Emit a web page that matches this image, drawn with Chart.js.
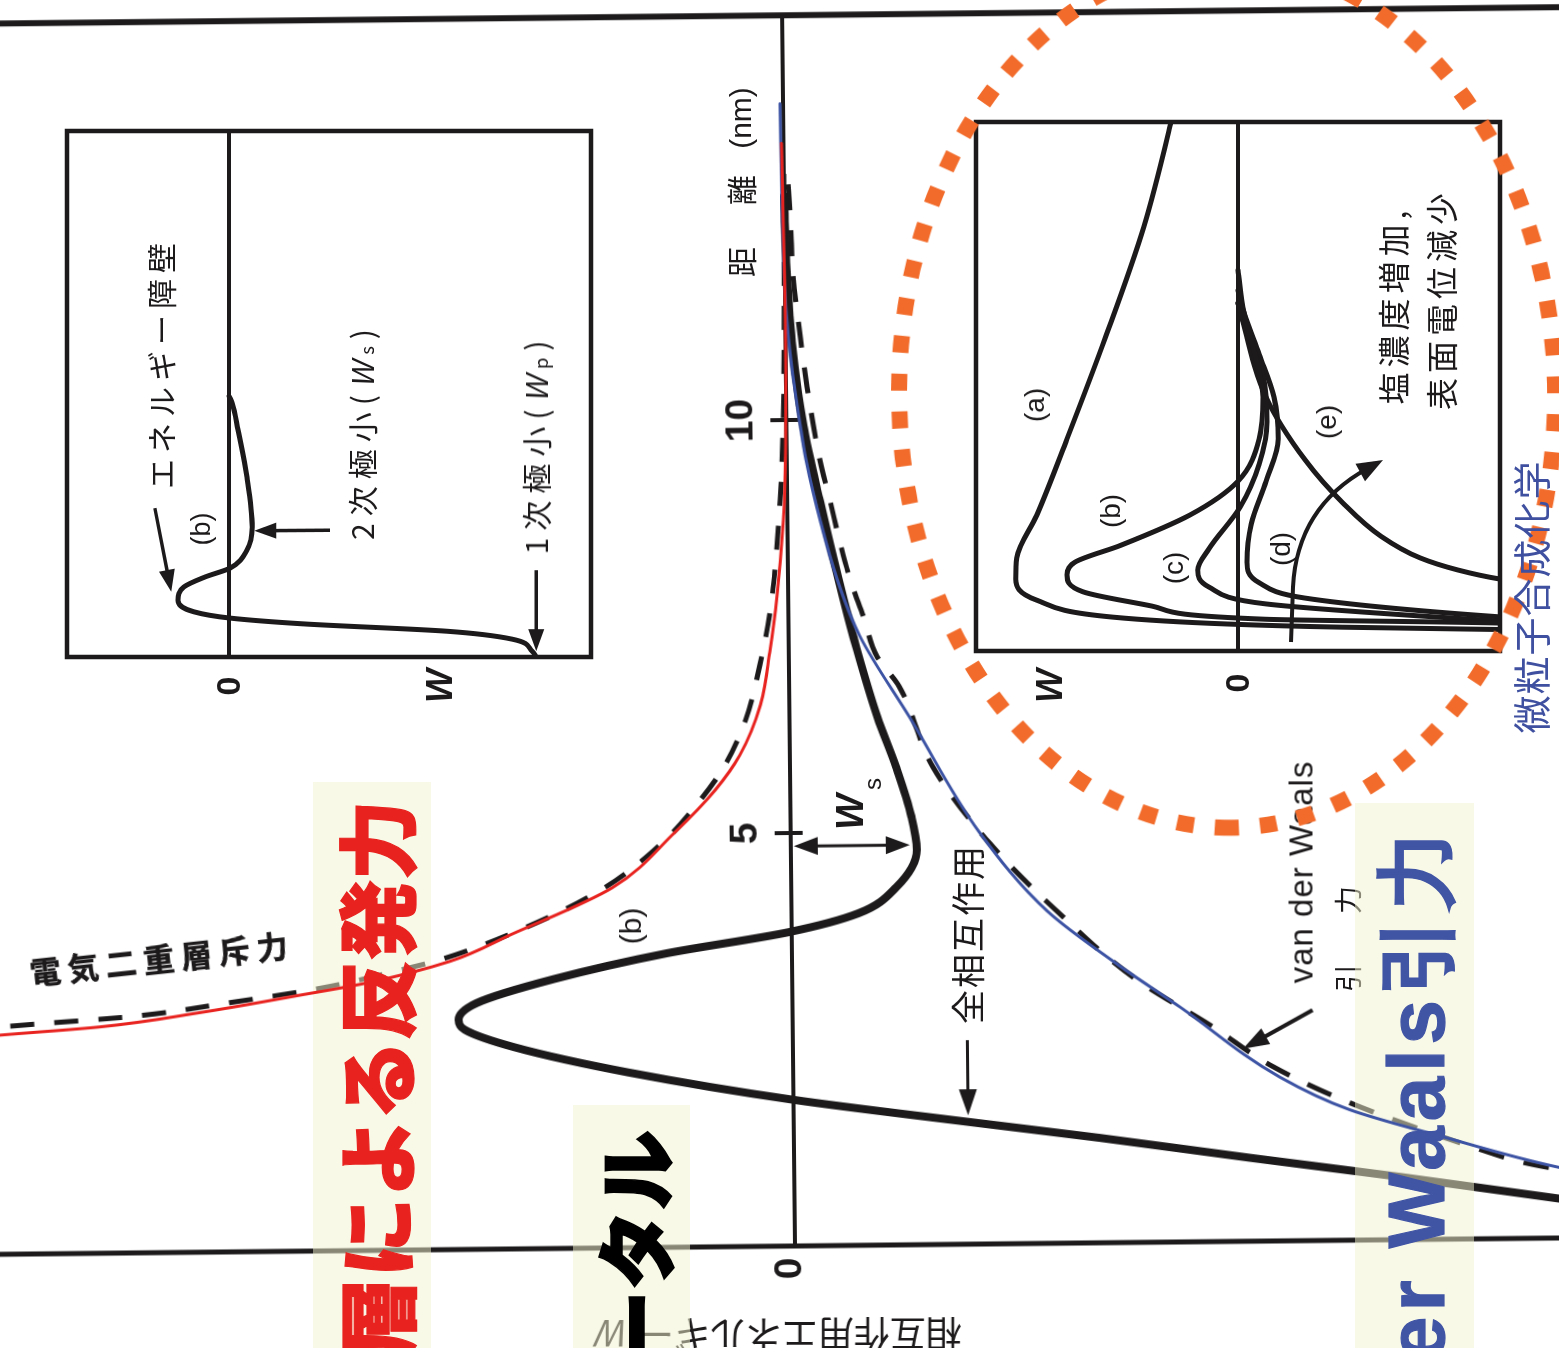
<!DOCTYPE html>
<html lang="ja">
<head>
<meta charset="utf-8">
<title>粒子間ポテンシャル</title>
<script src="https://cdn.jsdelivr.net/npm/chart.js@4.4.1/dist/chart.umd.min.js"></script>
<style>
  html, body { margin: 0; padding: 0; background: #fff; }
  #page { position: relative; width: 1559px; height: 1348px; overflow: hidden; background: #fff; }
  .layer { position: absolute; left: 0; top: 0; width: 1559px; height: 1348px; }
  .tilt { transform-origin: 795px 1246px; transform: rotate(-0.6deg); }
  .rot { position: absolute; transform-origin: 0 0; transform: rotate(-90deg); }
  .rot canvas { display: block; }
  .lbl { position: absolute; left: 0; top: 0; white-space: nowrap; line-height: 1; transform-origin: 0 0;
         font-family: "Noto Sans CJK JP", "Liberation Sans", sans-serif; color: #1d1a1b; }
  .box { position: absolute; background: rgba(244, 244, 210, 0.5); }
</style>
</head>
<body>
<div id="page">
  <div id="scan" class="layer">
    <div class="layer tilt">
      <div class="rot" style="left:-20px; top:1368px; width:1388px; height:1599px;">
        <canvas id="mainChart" width="1388" height="1599"></canvas>
      </div>
    </div>
    <div class="rot" style="left:57px; top:667px; width:546px; height:544px;">
      <canvas id="insetBarrier" width="546" height="544"></canvas>
    </div>
    <div class="rot" style="left:966px; top:661px; width:549px; height:544px;">
      <canvas id="insetSalt" width="549" height="544"></canvas>
    </div>
  </div>
  <div id="boxes" class="layer">
    <div class="box" style="left:313px; top:782px; width:118px; height:566px;"></div>
    <div class="box" style="left:573px; top:1105px; width:117px; height:243px;"></div>
    <div class="box" style="left:1355px; top:803px; width:119px; height:545px;"></div>
  </div>
  <div class="layer tilt">
    <div class="rot" style="left:-20px; top:1368px; width:1388px; height:1599px;">
      <canvas id="overlayChart" width="1388" height="1599"></canvas>
    </div>
  </div>
  <div id="captions" class="layer"></div>
</div>

<script>
// ---- main diagram: separation distance (nm) vs. interaction energy W (arbitrary units) ----
const distTicks = [0, 5, 10];
const distTickLabels = ['0', '5', '10'];

// total interaction, curve (b)
const totalDist   = [0.25, 0.48, 0.76, 1.01, 1.27, 1.48, 1.77, 2.12, 2.44, 2.66, 2.78, 2.98, 3.26, 3.56, 3.80, 4.02, 4.33, 4.78, 5.18, 5.79, 6.39, 7.22, 7.84, 9.00, 9.93, 10.86, 11.79, 12.71];
const totalEnergy = [-9.00, -7.63, -6.06, -4.56, -3.06, -1.75, 0.00, 1.64, 2.78, 3.28, 3.34, 3.16, 2.39, 1.25, 0.03, -0.67, -1.05, -1.26, -1.21, -1.06, -0.88, -0.68, -0.55, -0.33, -0.17, -0.07, -0.02, 0.00];

// electric double layer repulsion (dashed)
const edlDist   = [2.68, 2.78, 2.86, 3.01, 3.18, 3.39, 3.51, 3.86, 4.33, 4.87, 5.41, 5.83, 6.37, 7.04, 7.70, 8.31, 9.03, 10.00, 11.45, 13.00];
const edlEnergy = [8.70, 7.60, 6.63, 5.67, 4.72, 3.92, 3.52, 2.72, 1.91, 1.31, 0.90, 0.65, 0.44, 0.29, 0.18, 0.12, 0.07, 0.03, 0.01, 0.00];

// van der Waals attraction (dashed)
const vdwDist   = [0.75, 0.92, 1.07, 1.66, 2.11, 2.60, 3.21, 3.91, 4.85, 5.78, 6.76, 7.13, 7.61, 8.07, 8.53, 9.01, 9.52, 9.93, 10.40, 10.99, 11.79, 12.48, 12.90];
const vdwEnergy = [-8.00, -7.29, -6.89, -5.57, -4.80, -4.20, -3.41, -2.75, -1.99, -1.43, -1.10, -0.88, -0.75, -0.62, -0.52, -0.43, -0.33, -0.27, -0.21, -0.15, -0.08, -0.06, -0.04];

// highlighted repulsion (red) and attraction (blue) traces
const repulsionDist   = [2.52, 2.655, 2.74, 2.90, 3.10, 3.24, 3.49, 3.81, 4.36, 5.02, 5.53, 5.95, 6.55, 7.19, 7.89, 8.79, 9.27, 11.09, 13.35];
const repulsionEnergy = [9.30, 7.91, 6.93, 5.93, 4.92, 4.25, 3.42, 2.80, 1.79, 1.16, 0.75, 0.50, 0.29, 0.19, 0.11, 0.04, 0.02, 0.00, 0.02];
const attractionDist   = [0.70, 0.86, 1.24, 1.58, 1.98, 2.84, 3.39, 4.02, 4.98, 6.39, 7.38, 8.07, 8.77, 9.47, 10.17, 10.86, 11.55, 12.48, 13.83];
const attractionEnergy = [-8.30, -7.63, -6.49, -5.56, -4.87, -3.88, -3.23, -2.56, -1.89, -1.20, -0.71, -0.49, -0.33, -0.20, -0.11, -0.04, 0.00, 0.02, 0.03];

// ---- inset: energy barrier, secondary and primary minima (curve b) ----
const barrierDist   = [0.00, 0.11, 0.34, 0.49, 0.63, 0.74, 0.86, 1.08, 1.33, 1.52, 1.69, 2.03, 2.47, 3.42, 4.32, 4.83, 4.96];
const barrierEnergy = [-5.84, -5.76, -5.38, -4.14, -1.41, -0.02, 0.67, 0.97, 0.86, 0.46, -0.02, -0.34, -0.44, -0.34, -0.17, -0.06, 0.00];

// ---- inset: curves (a)-(e), increasing salt concentration ----
const curveADist   = [0.40, 0.45, 0.51, 0.64, 0.96, 1.36, 1.76, 2.57, 4.01, 5.94, 8.02, 9.98, 10.20];
const curveAEnergy = [-5.40, -1.98, 0.19, 2.36, 3.80, 4.20, 4.18, 3.80, 3.23, 2.50, 1.78, 1.27, 1.22];
const curveBDist   = [0.50, 0.53, 0.60, 0.85, 1.12, 1.44, 1.68, 2.00, 2.57, 3.21, 4.01, 4.80, 5.61, 6.41, 7.20];
const curveBEnergy = [-5.40, -4.88, -0.53, 1.63, 2.93, 3.23, 3.08, 2.21, 0.91, 0.00, -0.40, -0.47, -0.32, -0.11, 0.00];
const curveCDist   = [0.54, 0.57, 0.89, 1.21, 1.53, 1.93, 2.72, 3.53, 4.33, 5.22, 6.01, 6.58];
const curveCEnergy = [-5.40, -4.88, -0.53, 0.55, 0.76, 0.55, -0.04, -0.40, -0.55, -0.47, -0.17, 0.00];
const curveDDist   = [0.62, 0.65, 1.00, 1.29, 1.68, 2.40, 3.21, 4.01, 4.80, 5.61, 6.41, 6.82];
const curveDEnergy = [-5.40, -4.88, -1.27, -0.40, -0.17, -0.25, -0.53, -0.76, -0.68, -0.40, -0.11, 0.00];
const curveEDist   = [1.30, 1.36, 1.53, 1.76, 2.17, 2.80, 3.61, 4.80, 6.58];
const curveEEnergy = [-5.40, -4.95, -4.16, -3.44, -2.70, -1.98, -1.27, -0.53, 0.00];

// ---------------------------------------------------------------------------
const INK = '#1d1a1b';
const RED = '#e8231f';
const BLUE = '#3c53a4';
const ORANGE = '#f26b2a';

const xy = (xs, ys) => xs.map((x, i) => ({ x, y: ys[i] }));

function curve(dist, energy, style) {
  return Object.assign({
    data: xy(dist, energy), pointRadius: 0, fill: false,
    cubicInterpolationMode: 'monotone', borderJoinStyle: 'round', borderCapStyle: 'round'
  }, style);
}

function seg(ctx, x1, y1, x2, y2) {
  ctx.beginPath(); ctx.moveTo(x1, y1); ctx.lineTo(x2, y2); ctx.stroke();
}

function head(ctx, xFrom, yFrom, xTip, yTip, len, half) {
  const a = Math.atan2(yTip - yFrom, xTip - xFrom);
  const bx = xTip - len * Math.cos(a), by = yTip - len * Math.sin(a);
  ctx.beginPath();
  ctx.moveTo(xTip, yTip);
  ctx.lineTo(bx + half * Math.sin(a), by - half * Math.cos(a));
  ctx.lineTo(bx - half * Math.sin(a), by + half * Math.cos(a));
  ctx.closePath(); ctx.fill();
}

function arrow(ctx, x1, y1, x2, y2, len, half, both) {
  const a = Math.atan2(y2 - y1, x2 - x1);
  const sx = both ? x1 + len * 0.7 * Math.cos(a) : x1, sy = both ? y1 + len * 0.7 * Math.sin(a) : y1;
  seg(ctx, sx, sy, x2 - len * 0.7 * Math.cos(a), y2 - len * 0.7 * Math.sin(a));
  head(ctx, x1, y1, x2, y2, len, half);
  if (both) head(ctx, x2, y2, x1, y1, len, half);
}

function baseOptions(xmin, xmax, ymin, ymax, padding) {
  return {
    responsive: false, animation: false, devicePixelRatio: 1, events: [],
    layout: { padding },
    plugins: { legend: { display: false }, tooltip: { enabled: false } },
    scales: {
      x: { type: 'linear', min: xmin, max: xmax, display: false },
      y: { type: 'linear', min: ymin, max: ymax, display: false }
    }
  };
}

// ---- main chart (scan layer) ----
const DIST_END = 14.9;
const mainFrame = {
  id: 'mainFrame',
  beforeDatasetsDraw(chart) {
    const { ctx, chartArea: a, scales: { x, y } } = chart;
    ctx.save();
    ctx.strokeStyle = INK; ctx.lineCap = 'butt';
    const x0 = x.getPixelForValue(0), xe = x.getPixelForValue(DIST_END), y0 = y.getPixelForValue(0);
    ctx.lineWidth = 5; seg(ctx, x0, a.top, x0, a.bottom);
    ctx.lineWidth = 6; seg(ctx, xe, a.top, xe, a.bottom);
    ctx.lineWidth = 4; seg(ctx, x0, y0, xe, y0);
    distTicks.forEach(d => {
      if (d > 0) {
        const xp = x.getPixelForValue(d);
        seg(ctx, xp, y.getPixelForValue(0.16), xp, y.getPixelForValue(-0.12));
      }
    });
    ctx.restore();
  },
  afterDatasetsDraw(chart) {
    const { ctx, scales: { x, y } } = chart;
    const P = (d, w) => [x.getPixelForValue(d), y.getPixelForValue(w)];
    ctx.save();
    ctx.fillStyle = INK; ctx.strokeStyle = INK;
    ctx.font = 'bold 39px "Liberation Sans", Arial, sans-serif';
    ctx.textAlign = 'center'; ctx.textBaseline = 'middle';
    distTicks.forEach((d, i) => {
      const [px, py] = d === 0 ? P(-0.27, 0.05) : P(d, 0.45);
      ctx.fillText(distTickLabels[i], px, py);
    });
    ctx.lineCap = 'butt';
    // secondary minimum depth Ws
    ctx.lineWidth = 3;
    arrow(ctx, ...P(4.84, -0.03), ...P(4.84, -1.19), 24, 9, true);
    // pointer to the total interaction curve
    arrow(ctx, ...P(2.47, -1.745), ...P(1.56, -1.745), 26, 9, false);
    // pointer to the van der Waals curve
    ctx.lineWidth = 4;
    arrow(ctx, ...P(2.79, -5.20), ...P(2.33, -4.50), 26, 9, false);
    ctx.restore();
  }
};

new Chart(document.getElementById('mainChart'), {
  type: 'line',
  data: { datasets: [
    curve(totalDist, totalEnergy, { borderColor: INK, borderWidth: 8 }),
    curve(edlDist, edlEnergy, { borderColor: INK, borderWidth: 5, borderDash: [24, 20], borderCapStyle: 'butt' }),
    curve(vdwDist, vdwEnergy, { borderColor: INK, borderWidth: 5, borderDash: [26, 20], borderCapStyle: 'butt' })
  ] },
  options: baseOptions(0, 15, -7.84, 8.15, { left: 122, right: 27, top: 0, bottom: 0 }),
  plugins: [mainFrame]
});

// ---- overlay traces and highlight ring ----
const ring = {
  id: 'ring',
  afterDatasetsDraw(chart) {
    const { ctx, scales: { x, y } } = chart;
    ctx.save();
    ctx.strokeStyle = ORANGE; ctx.lineWidth = 16; ctx.lineCap = 'butt';
    ctx.setLineDash([17, 21]);
    ctx.beginPath();
    ctx.ellipse(x.getPixelForValue(10.25), y.getPixelForValue(-4.41), 433, 328, 0, Math.PI, Math.PI * 3);
    ctx.stroke();
    ctx.restore();
  }
};

new Chart(document.getElementById('overlayChart'), {
  type: 'line',
  data: { datasets: [
    curve(repulsionDist, repulsionEnergy, { borderColor: RED, borderWidth: 3 }),
    curve(attractionDist, attractionEnergy, { borderColor: BLUE, borderWidth: 3 })
  ] },
  options: baseOptions(0, 15, -7.84, 8.15, { left: 122, right: 27, top: 0, bottom: 0 }),
  plugins: [ring]
});

// ---- inset frames ----
function insetFrame(id, extra) {
  return {
    id,
    beforeDatasetsDraw(chart) {
      const { ctx, chartArea: a, scales: { y } } = chart;
      ctx.save();
      ctx.strokeStyle = INK; ctx.lineWidth = 4.5;
      ctx.strokeRect(a.left, a.top, a.right - a.left, a.bottom - a.top);
      ctx.lineWidth = 4;
      const y0 = y.getPixelForValue(0);
      seg(ctx, a.left, y0, a.right, y0);
      ctx.restore();
    },
    afterDatasetsDraw(chart) {
      const { ctx, scales: { x, y } } = chart;
      const P = (d, w) => [x.getPixelForValue(d), y.getPixelForValue(w)];
      ctx.save();
      ctx.fillStyle = INK; ctx.strokeStyle = INK; ctx.lineWidth = 3.5; ctx.lineCap = 'butt';
      extra(ctx, P);
      ctx.restore();
    }
  };
}

new Chart(document.getElementById('insetBarrier'), {
  type: 'line',
  data: { datasets: [ curve(barrierDist, barrierEnergy, { borderColor: INK, borderWidth: 5 }) ] },
  options: baseOptions(0, 10, -6.88, 3.08, 10),
  plugins: [insetFrame('barrierFrame', (ctx, P) => {
    arrow(ctx, ...P(2.83, 1.41), ...P(1.24, 1.10), 22, 8, false);
    arrow(ctx, ...P(2.41, -1.92), ...P(2.40, -0.48), 22, 8, false);
    arrow(ctx, ...P(1.65, -5.84), ...P(0.11, -5.84), 22, 8, false);
  })]
});

new Chart(document.getElementById('insetSalt'), {
  type: 'line',
  data: { datasets: [
    curve(curveADist, curveAEnergy, { borderColor: INK, borderWidth: 5 }),
    curve(curveBDist, curveBEnergy, { borderColor: INK, borderWidth: 5 }),
    curve(curveCDist, curveCEnergy, { borderColor: INK, borderWidth: 5 }),
    curve(curveDDist, curveDEnergy, { borderColor: INK, borderWidth: 5 }),
    curve(curveEDist, curveEEnergy, { borderColor: INK, borderWidth: 5 })
  ] },
  options: baseOptions(0, 10, -4.95, 4.95, 10),
  plugins: [insetFrame('saltFrame', (ctx, P) => {
    const [ax, ay] = P(0.17, -1.00), [bx, by] = P(1.21, -1.04), [cx, cy] = P(2.72, -1.12), [tx, ty] = P(3.61, -2.74);
    ctx.lineWidth = 4;
    ctx.beginPath(); ctx.moveTo(ax, ay); ctx.lineTo(bx, by);
    const a = Math.atan2(ty - cy, tx - cx);
    ctx.quadraticCurveTo(cx, cy, tx - 18 * Math.cos(a), ty - 18 * Math.sin(a));
    ctx.stroke();
    head(ctx, cx, cy, tx, ty, 26, 10);
  })]
});

// ---- text ----
function placeText(layer, html, cx, cy, size, rot, css, anchor) {
  const el = document.createElement('div');
  el.className = 'lbl';
  el.innerHTML = html;
  el.style.cssText += 'font-size:' + size + 'px;' + (css || '');
  const shift = anchor === 'end' ? 'translate(-100%,-50%)' : 'translate(-50%,-50%)';
  el.style.transform = 'translate(' + cx + 'px,' + cy + 'px) rotate(' + rot + 'deg) ' + shift;
  layer.appendChild(el);
}

const LAT = 'font-family:"Liberation Sans",Arial,sans-serif;';
const scan = document.getElementById('scan');
const sub = s => '<span style="font-size:62%;font-style:normal">' + s + '</span>';

placeText(scan, '距', 740, 262, 30, -90);
placeText(scan, '離', 740, 190, 30, -90);
placeText(scan, '(nm)', 741, 118, 30, -90, LAT);
placeText(scan, '(b)', 631, 926, 30, -90, LAT);
placeText(scan, 'W', 850, 812, 38, -90, LAT + 'font-weight:bold;font-style:italic');
placeText(scan, 's', 873, 784, 24, -90, LAT);
placeText(scan, '全相互作用', 967, 934, 34, -90, 'letter-spacing:2px');
placeText(scan, 'van der Waals', 1301, 872, 33, -90, LAT + 'letter-spacing:1px');
placeText(scan, '引', 1347, 978, 28, -90);
placeText(scan, '力', 1347, 900, 28, -90);
placeText(scan, '電気二重層斥力', 162, 957, 31, -6.2, 'font-weight:bold;letter-spacing:7px;-webkit-text-stroke:0.6px #1d1a1b');
placeText(scan, '相互作用エネルギー <i style="' + LAT + '">W</i>', 780, 1336, 36, 180);

placeText(scan, 'エネルギー障壁', 160, 363, 30, -90, 'letter-spacing:6px');
placeText(scan, '(b)', 201, 529, 27, -90, LAT);
placeText(scan, '2次極小(<i style="' + LAT + '">W</i>' + sub('s') + ')', 361, 431, 30, -90, 'letter-spacing:7px');
placeText(scan, '1次極小(<i style="' + LAT + '">W</i>' + sub('p') + ')', 535, 444, 30, -90, 'letter-spacing:7px');
placeText(scan, '0', 228, 686, 34, -90, LAT + 'font-weight:bold');
placeText(scan, 'W', 440, 686, 36, -90, LAT + 'font-weight:bold;font-style:italic');

placeText(scan, '(a)', 1035, 405, 28, -90, LAT);
placeText(scan, '(b)', 1111, 511, 28, -90, LAT);
placeText(scan, '(c)', 1174, 568, 28, -90, LAT);
placeText(scan, '(d)', 1281, 549, 28, -90, LAT);
placeText(scan, '(e)', 1327, 422, 28, -90, LAT);
placeText(scan, '塩濃度増加,', 1392, 305, 32, -90, 'letter-spacing:5px');
placeText(scan, '表面電位減少', 1440, 299, 32, -90, 'letter-spacing:5px');
placeText(scan, 'W', 1050, 686, 36, -90, LAT + 'font-weight:bold;font-style:italic');
placeText(scan, '0', 1237, 683, 34, -90, LAT + 'font-weight:bold');

const cap = document.getElementById('captions');
placeText(cap, '層による反発力', 373, 800, 80, -90, 'font-weight:900;color:' + RED + ';-webkit-text-stroke:1.2px ' + RED, 'end');
placeText(cap, 'ータル', 632, 1130, 80, -90, 'font-weight:900;color:#000;-webkit-text-stroke:1.5px #000', 'end');
placeText(cap, 'er Waals引力', 1417, 825, 80, -90, LAT + 'font-weight:900;letter-spacing:5px;color:#4155a5;-webkit-text-stroke:1.2px #4155a5', 'end');
placeText(cap, '微粒子合成化学', 1530, 597, 38, -90, 'letter-spacing:1px;color:#3f50a0');
</script>
</body>
</html>
